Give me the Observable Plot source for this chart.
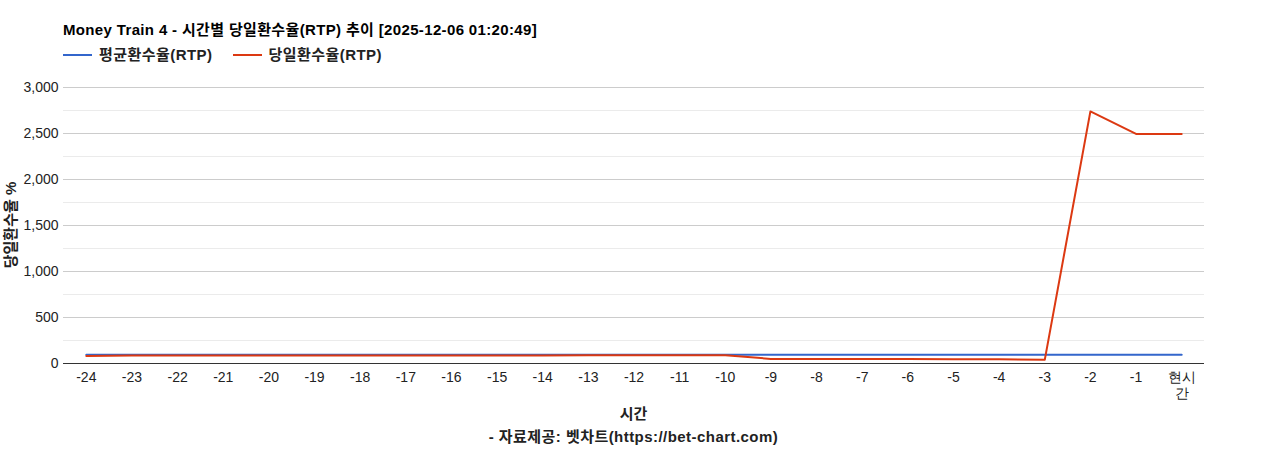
<!DOCTYPE html>
<html><head><meta charset="utf-8">
<script src="https://cdn.jsdelivr.net/npm/d3@7"></script>
<script src="https://cdn.jsdelivr.net/npm/@observablehq/plot@0.6"></script>
<style>
body{margin:0;background:#fff;width:1268px;height:450px;position:relative;overflow:hidden;font-family:"Liberation Sans","Noto Sans CJK KR",sans-serif;}
.abs{position:absolute;white-space:nowrap;}
#title{left:63px;top:20px;font-size:15px;font-weight:bold;color:#000;line-height:20px;letter-spacing:0.35px;}
#legend{left:63px;top:45px;font-size:15px;font-weight:bold;color:#222;line-height:20px;display:flex;align-items:center;letter-spacing:0.45px;}
.sw{display:inline-block;width:29px;height:2px;margin-right:7px;}
.item{display:flex;align-items:center;margin-right:20px;}
#chart{left:0;top:70px;}
#xlabel{left:0;width:1267px;text-align:center;top:404px;font-size:15px;font-weight:bold;color:#222;line-height:20px;}
#caption{left:0;width:1267px;text-align:center;top:427px;font-size:15px;font-weight:bold;color:#222;line-height:20px;letter-spacing:0.45px;}
#ylabel{left:9px;top:225px;font-size:15px;font-weight:bold;color:#222;transform:translate(-50%,-50%) rotate(-90deg);}
</style></head>
<body>
<div id="title" class="abs">Money Train 4 - 시간별 당일환수율(RTP) 추이 [2025-12-06 01:20:49]</div>
<div id="legend" class="abs"></div>
<div id="chart" class="abs"></div>
<div id="ylabel" class="abs">당일환수율 %</div>
<div id="xlabel" class="abs">시간</div>
<div id="caption" class="abs">- 자료제공: 벳차트(https://bet-chart.com)</div>
<script>
const hours = ["-24","-23","-22","-21","-20","-19","-18","-17","-16","-15","-14","-13","-12","-11","-10","-9","-8","-7","-6","-5","-4","-3","-2","-1","현시간"];
const avgRTP = [96,96,96,96,96,96,96,96,96,96,96,96,96,96,96,96,96,96,96,96,96,96,96,96,96];
const dayRTP = [82,86,88,88,88,88,88,88,88,88,88,89,90,90,90,50,50,50,48,47,46,40,2740,2495,2495];
const seriesNames = ["평균환수율(RTP)","당일환수율(RTP)"];
const seriesColors = ["#3366cc","#dc3912"];
const yTicks = [0,500,1000,1500,2000,2500,3000];
const yMinor = [250,750,1250,1750,2250,2750];

const leg = document.getElementById("legend");
seriesNames.forEach((n,i)=>{
  const it=document.createElement("span");it.className="item";
  it.innerHTML=`<span class="sw" style="background:${seriesColors[i]}"></span>${n}`;
  leg.appendChild(it);
});

const rows = [];
hours.forEach((h,i)=>{
  rows.push({hour:h, value:avgRTP[i], series:seriesNames[0]});
  rows.push({hour:h, value:dayRTP[i], series:seriesNames[1]});
});

const chart = Plot.plot({
  width:1268, height:340,
  marginLeft:63, marginRight:64, marginTop:17, marginBottom:47,
  style:{fontFamily:"'Liberation Sans', Arial, sans-serif", fontSize:"14px", color:"#222", background:"transparent"},
  x:{type:"point", domain:hours, padding:0.5, round:false, label:null},
  y:{domain:[0,3000], label:null},
  color:{domain:seriesNames, range:seriesColors},
  marks:[
    Plot.ruleY(yMinor,{stroke:"#ebebeb", strokeWidth:1}),
    Plot.ruleY(yTicks.slice(1),{stroke:"#cccccc", strokeWidth:1}),
    Plot.axisY({ticks:yTicks, tickFormat:d3.format(","), tickSize:0, tickPadding:5, label:null, fontSize:14, fill:"#222"}),
    Plot.axisX({tickSize:0, tickPadding:7, lineHeight:1.15, label:null, fontSize:14, fill:"#222",
      tickFormat:d=> d==="현시간" ? "현시\n간" : d}),
    Plot.line(rows.filter(r=>r.series===seriesNames[0]),{x:"hour", y:"value", stroke:seriesColors[0], strokeWidth:2}),
    Plot.line(rows.filter(r=>r.series===seriesNames[1]),{x:"hour", y:"value", stroke:seriesColors[1], strokeWidth:2}),
    Plot.ruleY([0],{stroke:"#333", strokeWidth:1})
  ]
});
document.getElementById("chart").appendChild(chart);
</script>
</body></html>
